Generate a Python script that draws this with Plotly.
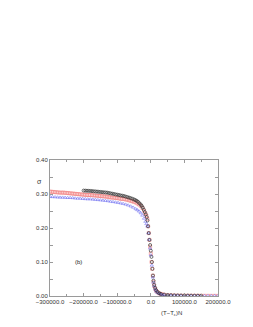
import plotly.graph_objects as go

# Black circles
x_black = [-200000, -195000, -190000, -185000, -180000, -175000, -170000, -165000, -160000, -155000,
           -150000, -145000, -140000, -135000, -130000, -125000, -120000, -115000, -110000, -105000,
           -100000, -95000, -90000, -85000, -80000, -75000, -70000, -65000, -60000, -55000,
           -50000, -46000, -42000, -38000, -34000, -30000, -27000, -24000, -21000, -18000,
           -15000, -12000, -10000, -8000, -6000, -4000, -2000, 0, 2000, 3500,
           5000, 6500, 8000, 10000, 13000, 16000, 20000, 25000, 30000, 40000,
           50000, 60000, 70000, 80000, 90000, 100000, 110000, 120000, 130000, 140000, 150000]
y_black = [0.310, 0.3098, 0.3095, 0.3092, 0.309, 0.3085, 0.308, 0.3075, 0.307, 0.3065,
           0.306, 0.3055, 0.305, 0.3045, 0.304, 0.303, 0.302, 0.301, 0.300, 0.299,
           0.298, 0.297, 0.296, 0.295, 0.294, 0.2925, 0.291, 0.2895, 0.288, 0.286,
           0.284, 0.282, 0.280, 0.277, 0.273, 0.269, 0.265, 0.260, 0.254, 0.247,
           0.240, 0.232, 0.222, 0.205, 0.185, 0.165, 0.150, 0.133, 0.115, 0.100,
           0.080, 0.060, 0.045, 0.033, 0.024, 0.017, 0.012, 0.008, 0.006, 0.004,
           0.003, 0.0025, 0.002, 0.0017, 0.0015, 0.0013, 0.0012, 0.0011, 0.0010, 0.0009, 0.0008]

# Red squares
x_red = [-300000, -295000, -290000, -285000, -280000, -275000, -270000, -265000, -260000, -255000,
         -250000, -245000, -240000, -235000, -230000, -225000, -220000, -215000, -210000, -205000,
         -200000, -195000, -190000, -185000, -180000, -175000, -170000, -165000, -160000, -155000,
         -150000, -145000, -140000, -135000, -130000, -125000, -120000, -115000, -110000, -105000,
         -100000, -95000, -90000, -85000, -80000, -75000, -70000, -65000, -60000, -55000,
         -50000, -45000, -40000, -35000, -30000,
         -25000, -20000, -16000, -13000, -10000, -8000, -6000, -4000, -2000, 0,
         2000, 4000, 6000, 8000, 10000, 13000, 16000, 20000, 25000, 30000,
         35000, 40000, 50000, 60000, 70000, 80000, 90000, 100000, 110000, 120000,
         130000, 140000, 150000, 160000, 170000, 180000, 190000, 200000]
y_red = [0.307, 0.3065, 0.306, 0.3055, 0.305, 0.3045, 0.304, 0.304, 0.304, 0.3035,
         0.303, 0.3025, 0.302, 0.3015, 0.301, 0.3005, 0.300, 0.2995, 0.299, 0.2985,
         0.298, 0.2975, 0.297, 0.297, 0.297, 0.2965, 0.296, 0.2955, 0.295, 0.2945,
         0.294, 0.2935, 0.293, 0.2925, 0.292, 0.291, 0.290, 0.2895, 0.289, 0.2885,
         0.288, 0.287, 0.286, 0.2855, 0.285, 0.284, 0.283, 0.2815, 0.280, 0.2785,
         0.277, 0.275, 0.272, 0.269, 0.265,
         0.259, 0.251, 0.243, 0.236, 0.226, 0.205, 0.185, 0.165, 0.145, 0.125,
         0.100, 0.080, 0.060, 0.042, 0.030, 0.021, 0.015, 0.011, 0.008, 0.006,
         0.0045, 0.0035, 0.0025, 0.002, 0.0015, 0.0012, 0.0011, 0.0010, 0.0009, 0.0008,
         0.0008, 0.0007, 0.0007, 0.0006, 0.0006, 0.0005, 0.0005, 0.0005]

# Blue triangles
x_blue = [-300000, -292500, -285000, -277500, -270000, -262500, -255000, -247500, -240000, -232500,
          -225000, -217500, -210000, -202500, -195000, -187500, -180000, -172500, -165000, -157500,
          -150000, -142500, -135000, -127500, -120000, -112500, -105000, -97500, -90000, -82500,
          -75000, -67500, -60000, -52500, -45000, -40000, -35000, -30000, -25000,
          -20000, -16000, -13000, -10000, -7000, -5000, -2000, 0, 3000, 6000,
          8000, 10000, 13000, 16000, 20000, 25000, 30000, 35000, 40000, 50000,
          60000, 70000, 80000, 90000, 100000, 110000, 120000, 130000, 140000, 150000,
          160000, 170000, 180000, 190000, 200000]
y_blue = [0.292, 0.2915, 0.291, 0.2905, 0.290, 0.290, 0.2895, 0.289, 0.289, 0.2885,
          0.2875, 0.287, 0.287, 0.2862, 0.2855, 0.285, 0.285, 0.2842, 0.2835, 0.2828,
          0.282, 0.2812, 0.2805, 0.2795, 0.278, 0.277, 0.2758, 0.2745, 0.273, 0.2715,
          0.2695, 0.267, 0.264, 0.2605, 0.256, 0.253, 0.249, 0.244, 0.237,
          0.228, 0.219, 0.212, 0.205, 0.185, 0.166, 0.140, 0.120, 0.090, 0.055,
          0.040, 0.029, 0.020, 0.014, 0.010, 0.007, 0.005, 0.004, 0.003, 0.0022,
          0.0018, 0.0015, 0.0013, 0.0011, 0.0010, 0.0009, 0.0008, 0.0007, 0.0007, 0.0006,
          0.0006, 0.0005, 0.0005, 0.0005, 0.0004]

x_tickvals = [-300000, -200000, -100000, 0, 100000, 200000]
x_ticktext = ["\u2212300000.0", "\u2212200000.0", "\u2212100000.0", "0.0", "100000.0", "200000.0"]
y_tickvals = [0.0, 0.1, 0.2, 0.3, 0.4]
y_ticktext = ["0.00", "0.10", "0.20", "0.30", "0.40"]

FONT = "Liberation Sans, Arial, sans-serif"

fig = go.Figure()
fig.add_trace(go.Scatter(x=x_red, y=y_red, mode="markers",
                         marker=dict(symbol="square-open", size=3, color="rgba(240,120,120,0.7)",
                                     line=dict(width=0.8))))
fig.add_trace(go.Scatter(x=x_blue, y=y_blue, mode="markers",
                         marker=dict(symbol="triangle-up-open", size=3, color="rgba(110,110,240,0.7)",
                                     line=dict(width=0.8))))
fig.add_trace(go.Scatter(x=x_black, y=y_black, mode="markers",
                         marker=dict(symbol="circle-open", size=3, color="rgba(50,50,50,0.85)",
                                     line=dict(width=0.8))))

axis_common = dict(showline=True, linecolor="#9a9a9a", linewidth=1, mirror="allticks",
                   ticks="inside", ticklen=3, tickcolor="#9a9a9a", showgrid=False, zeroline=False,
                   tickangle=0,
                   tickfont=dict(family=FONT, size=6, color="#333"))

fig.update_layout(
    width=253, height=327,
    margin=dict(l=42, r=43, t=152, b=39),
    paper_bgcolor="white", plot_bgcolor="white",
    showlegend=False,
    xaxis=dict(range=[-300000, 200000], tickvals=x_tickvals, ticktext=x_ticktext,
               minor=dict(dtick=50000, ticks="inside", ticklen=2, tickcolor="#9a9a9a"),
               **axis_common),
    yaxis=dict(range=[0, 0.4], tickvals=y_tickvals, ticktext=y_ticktext,
               minor=dict(dtick=0.05, ticks="inside", ticklen=3, tickcolor="#9a9a9a"),
               **axis_common),
    annotations=[
        dict(text="\u03c3", xref="paper", yref="paper", x=-0.09, y=0.88, showarrow=False,
             font=dict(family=FONT, size=7, color="#333")),
        dict(text="(b)", xref="x", yref="y", x=-215000, y=0.10, showarrow=False,
             font=dict(family=FONT, size=6, color="#222")),
        dict(text="(T\u2212T<sub>c</sub>)N", xref="paper", yref="paper", x=0.80, y=-0.09,
             showarrow=False, yanchor="top",
             font=dict(family=FONT, size=6, color="#333")),
    ],
)

fig.write_html("out.html")
